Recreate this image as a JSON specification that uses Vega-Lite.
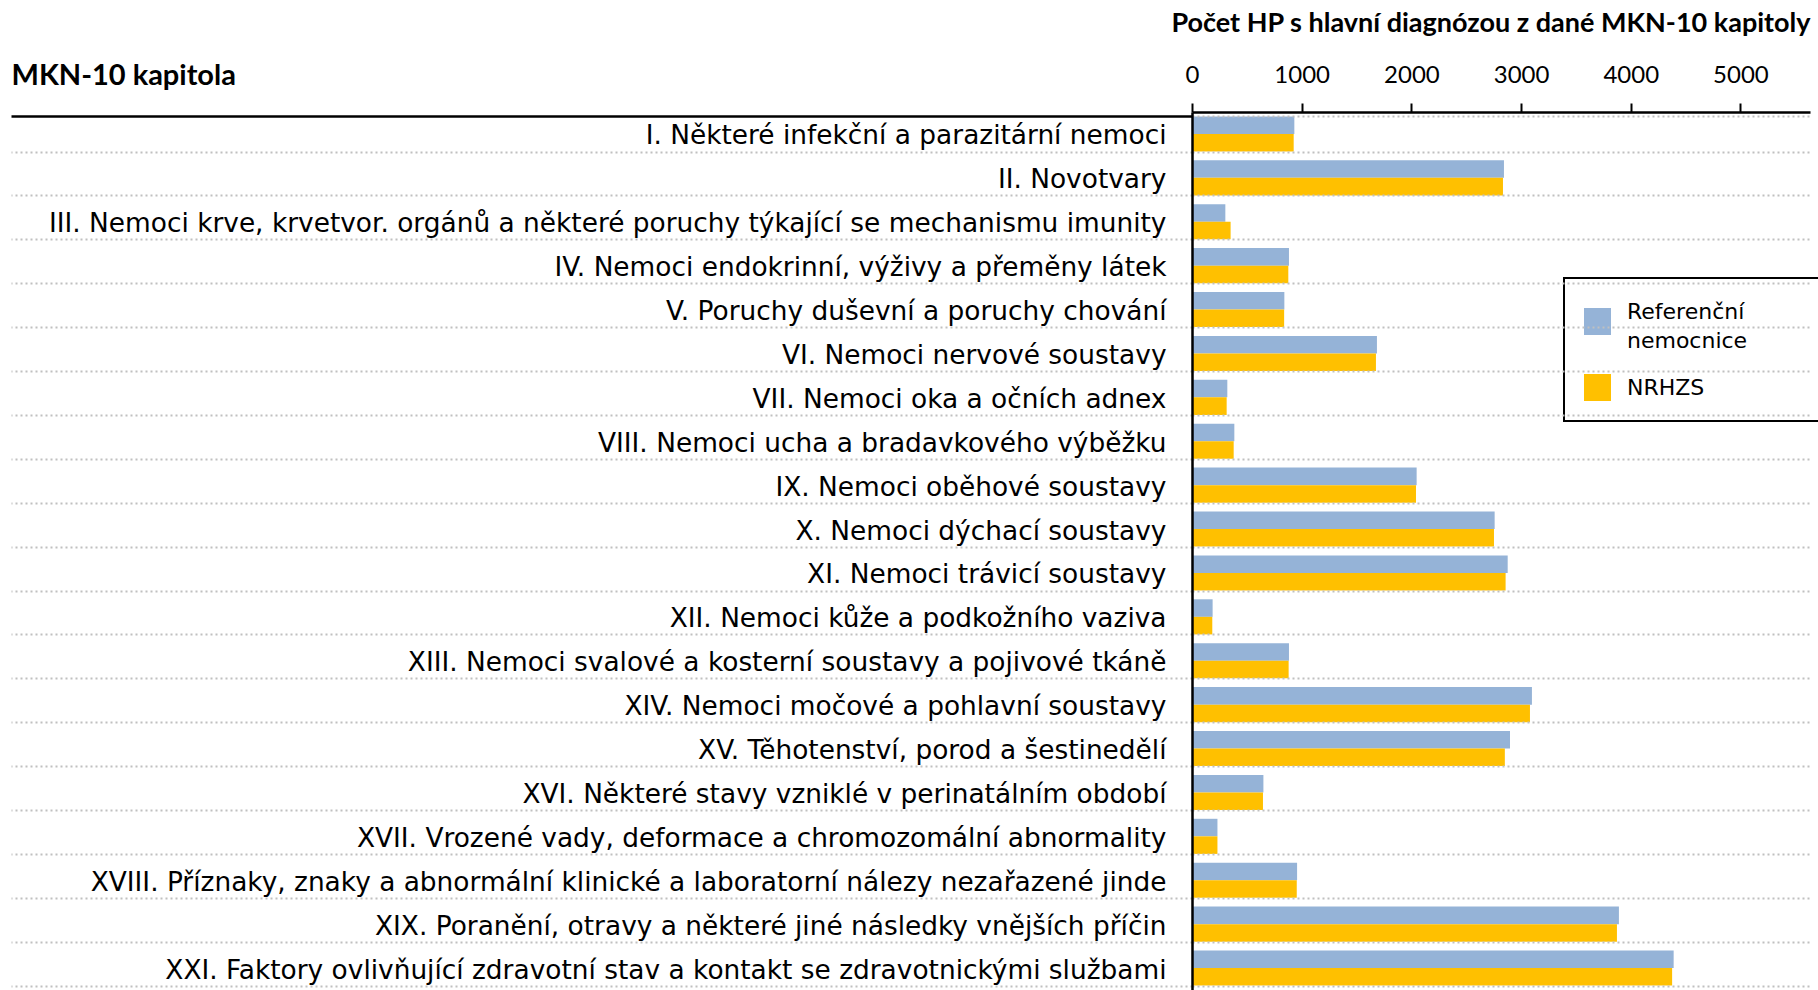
{
  "$schema": "https://vega.github.io/schema/vega-lite/v6.json",
  "autosize": {"type": "none"},
  "padding": {"left": 1192, "top": 112, "right": 8, "bottom": 0},
  "width": 618,
  "height": 878,
  "background": "white",
  "data": {
    "values": [
      {"kapitola": "I. Některé infekční a parazitární nemoci", "serie": "Referenční nemocnice", "pocet": 933},
      {"kapitola": "I. Některé infekční a parazitární nemoci", "serie": "NRHZS", "pocet": 927},
      {"kapitola": "II. Novotvary", "serie": "Referenční nemocnice", "pocet": 2844},
      {"kapitola": "II. Novotvary", "serie": "NRHZS", "pocet": 2835},
      {"kapitola": "III. Nemoci krve, krvetvor. orgánů a některé poruchy týkající se mechanismu imunity", "serie": "Referenční nemocnice", "pocet": 304},
      {"kapitola": "III. Nemoci krve, krvetvor. orgánů a některé poruchy týkající se mechanismu imunity", "serie": "NRHZS", "pocet": 352},
      {"kapitola": "IV. Nemoci endokrinní, výživy a přeměny látek", "serie": "Referenční nemocnice", "pocet": 884},
      {"kapitola": "IV. Nemoci endokrinní, výživy a přeměny látek", "serie": "NRHZS", "pocet": 878},
      {"kapitola": "V. Poruchy duševní a poruchy chování", "serie": "Referenční nemocnice", "pocet": 842},
      {"kapitola": "V. Poruchy duševní a poruchy chování", "serie": "NRHZS", "pocet": 840},
      {"kapitola": "VI. Nemoci nervové soustavy", "serie": "Referenční nemocnice", "pocet": 1686},
      {"kapitola": "VI. Nemoci nervové soustavy", "serie": "NRHZS", "pocet": 1677},
      {"kapitola": "VII. Nemoci oka a očních adnex", "serie": "Referenční nemocnice", "pocet": 322},
      {"kapitola": "VII. Nemoci oka a očních adnex", "serie": "NRHZS", "pocet": 316},
      {"kapitola": "VIII. Nemoci ucha a bradavkového výběžku", "serie": "Referenční nemocnice", "pocet": 386},
      {"kapitola": "VIII. Nemoci ucha a bradavkového výběžku", "serie": "NRHZS", "pocet": 380},
      {"kapitola": "IX. Nemoci oběhové soustavy", "serie": "Referenční nemocnice", "pocet": 2048},
      {"kapitola": "IX. Nemoci oběhové soustavy", "serie": "NRHZS", "pocet": 2042},
      {"kapitola": "X. Nemoci dýchací soustavy", "serie": "Referenční nemocnice", "pocet": 2759},
      {"kapitola": "X. Nemoci dýchací soustavy", "serie": "NRHZS", "pocet": 2753},
      {"kapitola": "XI. Nemoci trávicí soustavy", "serie": "Referenční nemocnice", "pocet": 2878},
      {"kapitola": "XI. Nemoci trávicí soustavy", "serie": "NRHZS", "pocet": 2859},
      {"kapitola": "XII. Nemoci kůže a podkožního vaziva", "serie": "Referenční nemocnice", "pocet": 188},
      {"kapitola": "XII. Nemoci kůže a podkožního vaziva", "serie": "NRHZS", "pocet": 185},
      {"kapitola": "XIII. Nemoci svalové a kosterní soustavy a pojivové tkáně", "serie": "Referenční nemocnice", "pocet": 884},
      {"kapitola": "XIII. Nemoci svalové a kosterní soustavy a pojivové tkáně", "serie": "NRHZS", "pocet": 881},
      {"kapitola": "XIV. Nemoci močové a pohlavní soustavy", "serie": "Referenční nemocnice", "pocet": 3099},
      {"kapitola": "XIV. Nemoci močové a pohlavní soustavy", "serie": "NRHZS", "pocet": 3081},
      {"kapitola": "XV. Těhotenství, porod a šestinedělí", "serie": "Referenční nemocnice", "pocet": 2899},
      {"kapitola": "XV. Těhotenství, porod a šestinedělí", "serie": "NRHZS", "pocet": 2852},
      {"kapitola": "XVI. Některé stavy vzniklé v perinatálním období", "serie": "Referenční nemocnice", "pocet": 651},
      {"kapitola": "XVI. Některé stavy vzniklé v perinatálním období", "serie": "NRHZS", "pocet": 647},
      {"kapitola": "XVII. Vrozené vady, deformace a chromozomální abnormality", "serie": "Referenční nemocnice", "pocet": 232},
      {"kapitola": "XVII. Vrozené vady, deformace a chromozomální abnormality", "serie": "NRHZS", "pocet": 232},
      {"kapitola": "XVIII. Příznaky, znaky a abnormální klinické a laboratorní nálezy nezařazené jinde", "serie": "Referenční nemocnice", "pocet": 958},
      {"kapitola": "XVIII. Příznaky, znaky a abnormální klinické a laboratorní nálezy nezařazené jinde", "serie": "NRHZS", "pocet": 955},
      {"kapitola": "XIX. Poranění, otravy a některé jiné následky vnějších příčin", "serie": "Referenční nemocnice", "pocet": 3892},
      {"kapitola": "XIX. Poranění, otravy a některé jiné následky vnějších příčin", "serie": "NRHZS", "pocet": 3874},
      {"kapitola": "XXI. Faktory ovlivňující zdravotní stav a kontakt se zdravotnickými službami", "serie": "Referenční nemocnice", "pocet": 4391},
      {"kapitola": "XXI. Faktory ovlivňující zdravotní stav a kontakt se zdravotnickými službami", "serie": "NRHZS", "pocet": 4377}
    ]
  },
  "mark": {"type": "bar"},
  "encoding": {
    "y": {
      "field": "kapitola",
      "type": "nominal",
      "sort": null,
      "scale": {"paddingInner": 0.2, "paddingOuter": 0.1},
      "axis": {
        "orient": "left",
        "title": "MKN-10 kapitola",
        "titleAngle": 0,
        "titleX": -1181,
        "titleY": -28,
        "titleAlign": "left",
        "titleBaseline": "alphabetic",
        "titleFont": "Lato",
        "titleFontSize": 29,
        "titleFontWeight": "bold",
        "titleColor": "black",
        "labelFont": "DejaVu Sans",
        "labelFontSize": 26.4,
        "labelColor": "black",
        "labelLimit": 1200,
        "labelPadding": -1155,
        "labelOffset": 2,
        "domain": true,
        "domainColor": "black",
        "domainWidth": 2.5,
        "ticks": true,
        "tickBand": "extent",
        "tickSize": 1181,
        "tickWidth": {"expr": "datum.extra ? 2.5 : 2"},
        "tickColor": {"expr": "datum.extra ? 'black' : '#c0c0c0'"},
        "tickDash": {"expr": "datum.extra ? [] : [2, 3]"},
        "grid": true,
        "gridColor": "#c0c0c0",
        "gridWidth": 2,
        "gridDash": [2, 3],
        "zindex": 1
      }
    },
    "x": {
      "field": "pocet",
      "type": "quantitative",
      "scale": {"domain": [0, 5634], "nice": false},
      "axis": {
        "orient": "top",
        "title": "Počet HP s hlavní diagnózou z dané MKN-10 kapitoly",
        "titleX": 618,
        "titleY": -81,
        "titleAlign": "right",
        "titleAnchor": "end",
        "titleBaseline": "alphabetic",
        "titleFont": "Lato",
        "titleFontSize": 27,
        "titleFontWeight": "bold",
        "titleColor": "black",
        "values": [0, 1000, 2000, 3000, 4000, 5000],
        "format": "d",
        "labelFont": "Lato",
        "labelFontSize": 24,
        "labelColor": "black",
        "labelPadding": 16,
        "labelFlush": false,
        "domainColor": "black",
        "domainWidth": 2.5,
        "tickColor": "black",
        "tickWidth": 2,
        "tickSize": 9,
        "grid": false,
        "zindex": 1
      }
    },
    "yOffset": {
      "field": "serie",
      "type": "nominal",
      "sort": ["Referenční nemocnice", "NRHZS"]
    },
    "color": {
      "field": "serie",
      "type": "nominal",
      "sort": ["Referenční nemocnice", "NRHZS"],
      "scale": {"domain": ["Referenční nemocnice", "NRHZS"], "range": ["#95B3D7", "#FFC000"]},
      "legend": {
        "title": "\u00a0",
        "titleFontSize": 1,
        "titlePadding": 9,
        "orient": "none",
        "legendX": 372,
        "legendY": 166,
        "strokeColor": "black",
        "fillColor": "white",
        "padding": 20,
        "symbolType": "square",
        "symbolSize": 729,
        "symbolStrokeWidth": 0,
        "labelFont": "DejaVu Sans",
        "labelFontSize": 22,
        "labelColor": "black",
        "labelOffset": 16,
        "labelLimit": 600,
        "rowPadding": 22,
        "labelExpr": "datum.label == 'Referenční nemocnice' ? ['Referenční', 'nemocnice\u2800\u2800\u2800\u2800'] : datum.label",
        "encode": {
          "labels": {
            "update": {
              "dy": {"signal": "datum.label == 'NRHZS' ? 0 : -9.5"},
              "lineHeight": {"value": 28.5}
            }
          }
        }
      }
    }
  },
  "config": {
    "view": {"stroke": null},
    "legend": {"strokeWidth": 2}
  }
}
